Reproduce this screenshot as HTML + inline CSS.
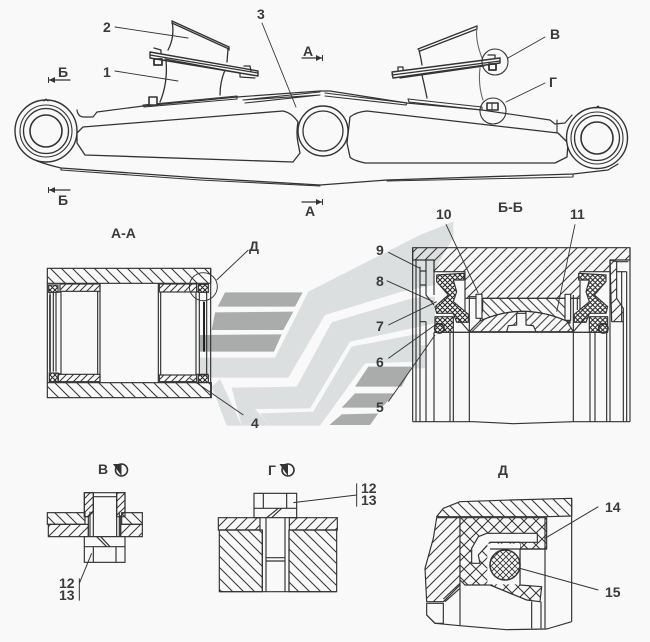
<!DOCTYPE html>
<html>
<head>
<meta charset="utf-8">
<style>
html,body{margin:0;padding:0;background:#f9f9f9;}
svg{display:block;}
text{font-family:"Liberation Sans",sans-serif;font-weight:bold;fill:#3a3a3a;font-size:14px;}
</style>
</head>
<body>
<svg width="650" height="642" viewBox="0 0 650 642" xmlns="http://www.w3.org/2000/svg">
<defs>
<pattern id="h1" width="33" height="33" patternUnits="userSpaceOnUse"><path d="M-5,-5L38,38M-5,28L5,38M28,-5L38,5" stroke="#333" stroke-width="3"/></pattern>
<pattern id="h2" width="21" height="21" patternUnits="userSpaceOnUse"><path d="M-3,24L24,-3M-3,3L3,-3M18,24L24,18" stroke="#333" stroke-width="3"/></pattern>
<pattern id="h3" width="30" height="30" patternUnits="userSpaceOnUse"><path d="M-3,33L33,-3M-3,3L3,-3M27,33L33,27" stroke="#333" stroke-width="3"/></pattern>
<pattern id="h4" width="28" height="28" patternUnits="userSpaceOnUse"><path d="M-3,-3L31,31M-3,25L3,31M25,-3L31,3" stroke="#333" stroke-width="3"/></pattern>
<pattern id="h5" width="26" height="26" patternUnits="userSpaceOnUse"><path d="M-3,29L29,-3M-3,3L3,-3M23,29L29,23" stroke="#333" stroke-width="3"/></pattern>
<pattern id="x1" width="15" height="15" patternUnits="userSpaceOnUse"><rect width="15" height="15" fill="#f9f9f9"/><path d="M-2,17L17,-2M-2,-2L17,17M-2,2L2,-2M13,17L17,13M-2,13L2,17M13,-2L17,2" stroke="#222" stroke-width="3"/></pattern>
<pattern id="x2" width="36" height="36" patternUnits="userSpaceOnUse"><rect width="36" height="36" fill="#f9f9f9"/><path d="M-3,39L39,-3M-3,-3L39,39M-3,3L3,-3M33,39L39,33M-3,33L3,39M33,-3L39,3" stroke="#333" stroke-width="3"/></pattern>
<pattern id="x3" width="18" height="18" patternUnits="userSpaceOnUse"><rect width="18" height="18" fill="#f9f9f9"/><path d="M-2,20L20,-2M-2,-2L20,20M-2,2L2,-2M16,20L20,16M-2,16L2,20M16,-2L20,2" stroke="#333" stroke-width="2.6"/></pattern>
</defs>
<rect width="650" height="642" fill="#f9f9f9"/>

<!-- watermark -->
<g transform="translate(205,235) scale(0.33333)">
<g fill="#dcdfdf">
<polygon points="310,170 645,0 745,-40 745,10 725,40 685,115 690,150 590,170 360,240 250,428 -15,428 -15,368 210,368"/>
<polygon points="80,458 275,455 380,262 620,190 690,185 690,265 435,320 315,520 150,522 195,572 110,572"/>
<polygon points="20,455 45,432 110,572 65,572"/>
<polygon points="165,535 325,530 440,335 645,295 645,380 480,385 345,572 195,572"/>
<rect x="624" y="330" width="36" height="70"/>
</g>
<g fill="#aaacac">
<polygon points="60,172 293,172 270,215 38,215"/>
<polygon points="30,232 265,230 235,285 20,285"/>
<polygon points="-15,300 230,298 207,350 -15,350"/>
<polygon points="490,395 620,395 590,455 450,455"/>
<polygon points="450,475 570,475 530,518 410,518"/>
<polygon points="410,538 520,535 495,570 373,570"/>
</g>
</g>

<!-- TOP VIEW -->
<g fill="none" stroke="#333" stroke-width="1.1" stroke-linejoin="round" stroke-linecap="round">
<!-- body outline -->
<path d="M77,110 Q78,117 84,117 L93,117 L97,112 L143,106 L237,97 L320,91 L330,91 L407,103 L482,110 L550,120 L555,124 L565,123 L572,115" stroke-width="1.2"/>
<path d="M37,161 Q48,165 61,168 L200,178 L320,185 L387,180 L573,174 L608,170 L618,164" stroke-width="1.3"/>
<path d="M61,168 L61,170 L200,180 L320,186"/>
<path d="M387,181 L573,177 L573,174"/>
<!-- pockets -->
<path d="M77,133 L83,127 L283,111 Q292,113 298,122 Q296,133 298,143 L300,153 L293,162 L85,155 L77,143 Z" stroke-width="1.3"/>
<path d="M367,111 L558,133 L568,143 L567,157 L555,163 L365,163 Q352,160 350,157 L347,143 L350,117 Q356,112 367,111 Z" stroke-width="1.3"/>
<path d="M557,120 L557,133"/>
<!-- plates -->
<path d="M143,105 L237,96 L237,99 L144,107 Z M243,100 L320,92 M245,103 L320,95 L243,100" />
<path d="M325,93 L407,103 L406,105 L325,96"/>
<path d="M408,99 L482,107 L482,110 L409,102 Z"/>
<!-- eyes -->
<g fill="#f9f9f9">
<circle cx="46" cy="131" r="31" stroke-width="1.4"/>
<circle cx="46" cy="131" r="26" />
<circle cx="46" cy="131" r="22.5" stroke-width="1.3"/>
<circle cx="46" cy="131" r="16" stroke-width="1.6"/>
<circle cx="323" cy="131" r="25" stroke-width="1.4"/>
<circle cx="323" cy="131" r="20" stroke-width="1.3"/>
<circle cx="597" cy="138" r="30.5" stroke-width="1.4"/>
<circle cx="597" cy="138" r="26"/>
<circle cx="597" cy="138" r="22.5" stroke-width="1.3"/>
<circle cx="597" cy="138" r="16" stroke-width="1.6"/>
</g>
<path d="M44,101 L46,99 L48,101 M596,108 L598,106 L600,108"/>
<!-- left bracket -->
<path d="M172,21 L229,47 L229,50 M172,23 L229,49" stroke-width="1.4"/>
<path d="M172,21 Q175,37 168,50 M166,60 Q168,83 160,102" stroke-width="1.3"/>
<path d="M228,49 L227,62 M225,70 Q220,82 220,95" stroke-width="1.3"/>
<path d="M150,52 L258,71 L258,76 L150,58 Z" fill="#f9f9f9" stroke-width="1.4"/>
<path d="M150,55 L258,73 M165,59 L240,73 L240,77 L255,78" stroke-width="1.2"/>
<path d="M154,48 L161,50 L161,54 M244,66 L250,66 L251,71" stroke-width="1.3"/>
<rect x="154" y="59" width="8" height="6" stroke-width="1.8"/>
<rect x="149" y="97" width="8" height="8" fill="#f9f9f9" stroke-width="1.6"/>
<!-- right bracket -->
<path d="M418,49 L477,26 L477,29 L420,51" stroke-width="1.4"/>
<path d="M419,50 Q421,58 422,65 M422,75 Q425,88 427,98" stroke-width="1.3"/>
<path d="M477,27 Q475,40 482,58 M480,68 Q478,85 483,100" stroke="#666"/>
<path d="M392,72 L500,58 L500,63 L393,78 Z" fill="#f9f9f9" stroke-width="1.4"/>
<path d="M392,75 L500,61 M400,78 L484,66" stroke-width="1.2"/>
<path d="M398,70 L398,67 L403,67 L403,70 M488,55 L495,55 L495,58" stroke-width="1.3"/>
<rect x="489" y="64" width="7" height="6" stroke-width="1.8"/>
<rect x="487" y="103" width="11" height="7" stroke-width="1.6"/>
<path d="M492,103 V110"/>
<circle cx="495" cy="62" r="13"/>
<circle cx="493" cy="111" r="13"/>
<!-- leaders -->
<path d="M115,27 L188,38 M115,71 L178,81 M262,23 L296,107 M545,37 L508,58 M545,83 L506,102" stroke-width="0.9"/>
<!-- cut marks -->
<path d="M302,58 H322 M49,80 H70 M49,190 H70 M302,202 H322" stroke-width="1.2"/>
</g>
<g fill="#333">
<polygon points="322,58 316,55 316,61"/><rect x="322" y="55" width="1" height="6"/>
<polygon points="49,80 55,77 55,83"/><rect x="48" y="77" width="1" height="6"/>
<polygon points="49,190 55,187 55,193"/><rect x="48" y="187" width="1" height="6"/>
<polygon points="322,202 316,199 316,205"/><rect x="322" y="199" width="1" height="6"/>
</g>

<!-- A-A SECTION -->
<g transform="translate(30,215) scale(0.33333)" fill="none" stroke="#333" stroke-width="3.5">
<rect x="50" y="205" width="450" height="298" fill="#f9f9f9" stroke="none"/>
<rect x="52" y="160" width="490" height="45" fill="url(#h1)"/>
<rect x="52" y="503" width="492" height="45" fill="url(#h1)"/>
<rect x="90" y="207" width="120" height="22" fill="url(#h2)"/>
<rect x="388" y="207" width="112" height="24" fill="url(#h2)"/>
<rect x="85" y="478" width="125" height="22" fill="url(#h2)"/>
<rect x="388" y="480" width="112" height="20" fill="url(#h2)"/>
<path d="M52,205 V503 M60,225 V480 M70,225 V470 M78,225 V470 M93,228 V478 M203,228 V478 M210,205 V503 M385,205 V503 M392,232 V480 M498,232 V480 M508,232 V480 M530,232 V480 M542,160 V548"/>
<path d="M60,240 V470" stroke-width="5" stroke="#333"/>
<path d="M522,260 V410" stroke-width="6" stroke="#222"/>
<path d="M58,231 H92 M58,476 H92 M500,230 H535 M500,478 H535"/>
<g fill="url(#x1)">
<rect x="56" y="210" width="28" height="22"/>
<rect x="58" y="474" width="26" height="26"/>
<rect x="505" y="208" width="30" height="24"/>
<rect x="505" y="480" width="30" height="22"/>
</g>
<circle cx="520" cy="215" r="42" stroke-width="2.8"/>
<path d="M655,105 L560,195 M640,600 L480,490" stroke-width="2.8"/>
</g>

<!-- Б-Б SECTION -->
<g transform="translate(340,195) scale(0.33333)" fill="none" stroke="#333" stroke-width="3.5" stroke-linejoin="round">
<polygon points="218,158 870,158 870,195 810,195 810,230 720,230 720,310 375,310 375,230 282,230 282,195 218,195" fill="url(#h3)"/>
<path d="M218,158 V680 M228,195 V680 M240,215 V680 M258,380 V680 M282,412 V680 M330,412 V680 M340,412 V680 M388,300 V680 M700,300 V680 M750,412 V680 M765,412 V680 M800,412 V680 M810,200 V680 M850,380 V680 M860,230 V680 M870,158 V680"/>
<path d="M218,680 H400 L520,686 L700,680 H870"/>
<path d="M282,412 H800"/>
<path d="M240,228 H258 M258,380 H240 M860,230 H830"/>
<path d="M258,195 V300 L282,330 M258,270 H240" />
<path d="M282,195 V300"/>
<polygon points="810,195 830,200 830,310 850,340 850,380 815,380" fill="url(#h3)"/>
<path d="M830,200 H865 M845,230 V380"/>
<!-- insert / dome -->
<path d="M428,310 L690,310 L690,385 L680,378 Q545,320 420,378 L428,345 Z" fill="url(#h4)"/>
<path d="M388,410 L420,378 Q545,320 680,378 L700,410 Z" fill="url(#h5)"/>
<path d="M500,410 L505,392 L530,390 L530,355 L558,355 L558,390 L580,392 L588,410 Z" fill="#f9f9f9"/>
<rect x="408" y="298" width="18" height="72" fill="#f9f9f9"/>
<rect x="675" y="298" width="17" height="78" fill="#f9f9f9"/>
<path d="M388,305 H408 M692,310 H712 V345 M375,310 V360 M720,310 V350"/>
<!-- left seal -->
<path d="M290,240 L372,235 V255 L340,255 L350,290 L340,320 L385,358 V382 L350,382 L340,355 L290,355 L285,335 L325,300 L290,260 Z" fill="url(#x1)"/>
<path d="M285,365 H340 V412 H285 Z" fill="url(#x1)"/>
<circle cx="298" cy="400" r="14" fill="url(#x1)" stroke-width="5"/>
<path d="M340,355 L388,410 M340,412 H388"/>
<g transform="matrix(-1,0,0,1,1088,0)">
<path d="M290,240 L372,235 V255 L340,255 L350,290 L340,320 L385,358 V382 L350,382 L340,355 L290,355 L285,335 L325,300 L290,260 Z" fill="url(#x1)"/>
<path d="M285,365 H340 V412 H285 Z" fill="url(#x1)"/>
<circle cx="298" cy="400" r="14" fill="url(#x1)" stroke-width="5"/>
<path d="M340,355 L388,410 M340,412 H388"/>
</g>
<!-- leaders -->
<path d="M145,172 L240,220 M140,257 L280,320 M145,390 L290,320 M145,490 L285,390 M145,620 L285,420 M318,88 L415,295 M705,88 L650,350" stroke-width="2.8"/>
</g>

<!-- DETAIL В -->
<g transform="translate(30,455) scale(0.33333)" fill="none" stroke="#333" stroke-width="3.5">
<polygon points="163,113 285,113 285,185 272,185 272,245 175,245 175,185 163,185" fill="#f9f9f9"/>
<path d="M163,113 H190 V170 L175,185 H163 Z" fill="url(#h2)"/>
<path d="M260,113 H285 V170 L270,185 H260 Z" fill="url(#h2)"/>
<rect x="52" y="173" width="113" height="35" fill="url(#h1)"/>
<rect x="55" y="208" width="120" height="37" fill="url(#h3)"/>
<rect x="275" y="173" width="62" height="35" fill="url(#h1)"/>
<rect x="272" y="208" width="65" height="37" fill="url(#h3)"/>
<path d="M190,113 V245 M260,113 V245 M190,125 H260 M180,170 V245 M268,170 V245"/>
<rect x="163" y="245" width="122" height="77" fill="#f9f9f9"/>
<path d="M163,275 H285 M190,275 V322 M258,275 V322 M200,245 L230,275 M212,245 L240,275"/>
<path d="M148,370 V437 M148,385 L185,295" stroke-width="3"/>
</g>

<!-- DETAIL Г -->
<g transform="translate(30,455) scale(0.33333)" fill="none" stroke="#333" stroke-width="3.5">
<rect x="672" y="115" width="128" height="73" fill="#f9f9f9"/>
<path d="M672,160 H800 M700,115 V160 M770,115 V160 M710,188 L745,160 M725,188 L755,160"/>
<polygon points="565,188 690,188 690,225 565,225" fill="url(#h3)"/>
<polygon points="778,188 922,188 922,225 778,225" fill="url(#h3)"/>
<polygon points="568,225 697,225 697,410 568,410" fill="url(#h1)"/>
<polygon points="777,225 920,225 920,410 777,410" fill="url(#h1)"/>
<path d="M708,188 V410 M765,188 V410 M697,225 V410 M777,225 V410 M708,308 H765 M708,318 H765" />
<path d="M570,410 H918"/>
<path d="M790,143 L980,120 M980,85 V155" stroke-width="3"/>
</g>

<!-- DETAIL Д -->
<g transform="translate(410,455) scale(0.33333)" fill="none" stroke="#333" stroke-width="3.5" stroke-linejoin="round">
<path d="M80,185 L100,160 L150,140 L300,135 L485,130 V183 L410,185 H80 Z" fill="url(#h1)"/>
<path d="M80,188 H150 V390 L100,440 H50 L45,340 L70,250 Z" fill="url(#h3)"/>
<path d="M50,445 H100 V505 L75,505 L50,480 Z"/>
<path d="M105,440 L150,400 M100,432 L150,385"/>
<path d="M150,188 H410 V282 H330 V390 L395,395 L390,440 L350,435 L240,390 H165 L150,375 Z" fill="url(#x2)"/>
<path d="M230,235 H382 V262 H240 L205,300 L210,325 H185 V280 L205,245 Z" fill="#f9f9f9"/>
<path d="M240,262 H330 V282 H240" />
<rect x="232" y="266" width="98" height="122" fill="#f9f9f9" stroke="none"/>
<circle cx="285" cy="330" r="45" fill="url(#x3)" stroke-width="4.5"/>
<path d="M330,282 V390 M240,390 L350,435 M405,188 V520 M485,130 V500 M150,390 V510 M365,440 V520 M393,440 V520 M240,282 H410"/>
<path d="M50,480 L75,505 L150,512 L290,524 L410,522 L485,500"/>
<path d="M565,155 L405,250 M565,405 L330,340" stroke-width="3"/>
</g>

<!-- half-filled view symbols -->
<g fill="none" stroke="#333" stroke-width="1.6">
<circle cx="121.5" cy="470" r="6"/>
<circle cx="288" cy="470" r="6"/>
</g>
<g fill="#333">
<path d="M113,464 L121.5,464 L121.5,476 Z"/>
<path d="M279.5,464 L288,464 L288,476 Z"/>
</g>

<!-- labels -->
<text x="103" y="32">2</text>
<text x="103" y="77">1</text>
<text x="257" y="19">3</text>
<text x="303" y="56">А</text>
<text x="58" y="77">Б</text>
<text x="58" y="205">Б</text>
<text x="305" y="216">А</text>
<text x="550" y="39">В</text>
<text x="549" y="87">Г</text>
<text x="111" y="238">А-А</text>
<text x="249" y="251">Д</text>
<text x="251" y="428">4</text>
<text x="498" y="212">Б-Б</text>
<text x="436" y="219">10</text>
<text x="570" y="219">11</text>
<text x="376" y="255">9</text>
<text x="376" y="286">8</text>
<text x="376" y="331">7</text>
<text x="376" y="367">6</text>
<text x="376" y="412">5</text>
<text x="98" y="474">В</text>
<text x="268" y="475">Г</text>
<text x="498" y="475">Д</text>
<text x="59" y="588">12</text>
<text x="59" y="600">13</text>
<text x="361" y="493">12</text>
<text x="361" y="505">13</text>
<text x="605" y="512">14</text>
<text x="605" y="597">15</text>
</svg>
</body>
</html>
